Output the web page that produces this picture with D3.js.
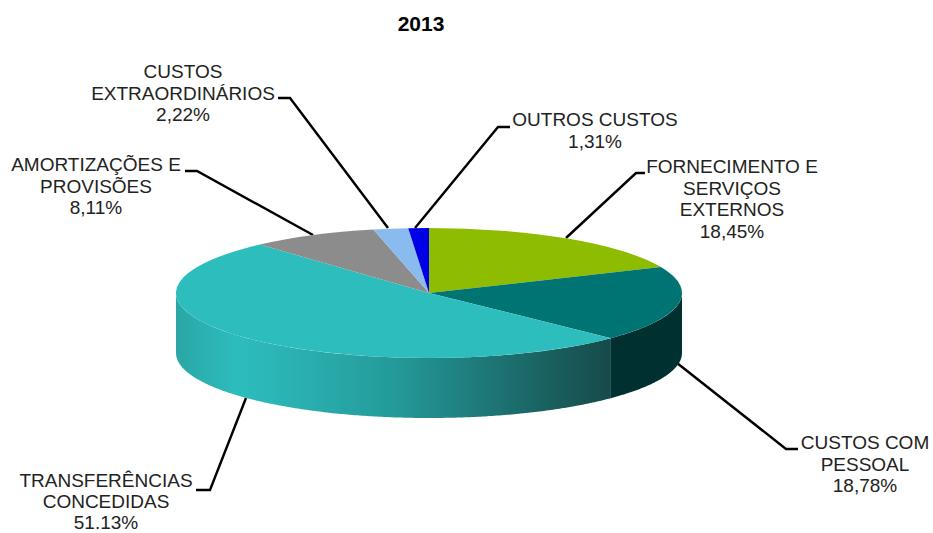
<!DOCTYPE html>
<html>
<head>
<meta charset="utf-8">
<script src="https://cdn.jsdelivr.net/npm/d3@7"></script>
<style>
  html, body { margin: 0; padding: 0; background: #fff; }
  svg { display: block; }
  text { font-family: "Liberation Sans", Arial, sans-serif; }
</style>
</head>
<body>
<script>
// data
var title = "2013";
var categories = ["FORNECIMENTO E SERVIÇOS EXTERNOS", "CUSTOS COM PESSOAL", "TRANSFERÊNCIAS CONCEDIDAS",
  "AMORTIZAÇÕES E PROVISÕES", "CUSTOS EXTRAORDINÁRIOS", "OUTROS CUSTOS"];
var values = [18.45, 18.78, 51.13, 8.11, 2.22, 1.31];
var valueLabels = ["18,45%", "18,78%", "51.13%", "8,11%", "2,22%", "1,31%"];
var labelLines = [
  ["FORNECIMENTO E", "SERVIÇOS", "EXTERNOS"],
  ["CUSTOS COM", "PESSOAL"],
  ["TRANSFERÊNCIAS", "CONCEDIDAS"],
  ["AMORTIZAÇÕES E", "PROVISÕES"],
  ["CUSTOS", "EXTRAORDINÁRIOS"],
  ["OUTROS CUSTOS"]
];

var topColors = ["#8dbc00", "#007373", "#2dbdbd", "#8c8c8c", "#8abbee", "#0000e6"];
var wallColors = ["#8dbc00", "#003030", "url(#wallCyan)", "#8c8c8c", "#8abbee", "#0000e6"];

// label placement: text centre, first baseline, line gap, leader line points
var labelLayout = [
  { x: 732, y: 173, gap: 21.7, line: [[566, 238], [636, 173], [645, 173]] },
  { x: 865, y: 449, gap: 21.5, line: [[677, 363], [786, 449], [798, 449]] },
  { x: 106, y: 487, gap: 21, line: [[246, 398], [210, 490], [196, 490]] },
  { x: 96, y: 171, gap: 21.5, line: [[313, 235], [197, 171], [185, 171]] },
  { x: 183, y: 78, gap: 21.5, line: [[388, 228], [290, 98], [278, 98]] },
  { x: 595, y: 126, gap: 21.5, line: [[415, 228], [498, 127], [510, 127]] }
];

var width = 933, height = 533;
var cx = 429, cy = 293, rx = 253, ry = 65, depth = 60;

var svg = d3.select("body").append("svg")
  .attr("width", width)
  .attr("height", height);

var grad = svg.append("defs").append("linearGradient")
  .attr("id", "wallCyan")
  .attr("gradientUnits", "userSpaceOnUse")
  .attr("x1", cx - rx).attr("x2", cx + 182)
  .attr("y1", 0).attr("y2", 0);
[[0, "#2aa6a6"], [0.14, "#2dbcbc"], [0.22, "#2cb6b6"], [0.5, "#249a9a"], [0.78, "#1c6c6c"], [1, "#174a4a"]]
  .forEach(function(s) {
    grad.append("stop").attr("offset", s[0]).attr("stop-color", s[1]);
  });

svg.append("text")
  .attr("x", 421)
  .attr("y", 31)
  .attr("text-anchor", "middle")
  .attr("font-size", 21)
  .attr("font-weight", "bold")
  .attr("fill", "#000")
  .text(title);

var pie = d3.pie().sort(null).value(function(d) { return d; });
var slices = pie(values);

// leader lines go under the pie
var leader = d3.line();
svg.append("g").selectAll("path")
  .data(labelLayout)
  .enter().append("path")
  .attr("d", function(d) { return leader(d.line); })
  .attr("fill", "none")
  .attr("stroke", "#000")
  .attr("stroke-width", 2.4);

// side wall, only the part of each slice that faces us
var wall = d3.area()
  .x(function(a) { return cx + rx * Math.sin(a); })
  .y0(function(a) { return cy - ry * Math.cos(a); })
  .y1(function(a) { return cy - ry * Math.cos(a) + depth; });

svg.append("g").selectAll("path")
  .data(slices)
  .enter().append("path")
  .attr("d", function(d) {
    var a0 = Math.max(d.startAngle, Math.PI / 2),
      a1 = Math.min(d.endAngle, Math.PI * 1.5);
    if (a1 <= a0) return null;
    return wall(d3.range(a0, a1, 0.01).concat([a1]));
  })
  .attr("fill", function(d, i) { return wallColors[i]; });

// top face is a plain d3 arc squashed into an ellipse
var arc = d3.arc().innerRadius(0).outerRadius(rx);
svg.append("g")
  .attr("transform", "translate(" + cx + "," + cy + ") scale(1," + (ry / rx) + ")")
  .selectAll("path")
  .data(slices)
  .enter().append("path")
  .attr("d", arc)
  .attr("fill", function(d, i) { return topColors[i]; });

// labels
var labels = svg.append("g").selectAll("text")
  .data(labelLayout)
  .enter().append("text")
  .attr("x", function(d) { return d.x; })
  .attr("y", function(d) { return d.y; })
  .attr("text-anchor", "middle")
  .attr("font-size", 19)
  .attr("fill", "#222");

labels.each(function(d, i) {
  var t = d3.select(this);
  labelLines[i].concat([valueLabels[i]]).forEach(function(s, k) {
    t.append("tspan")
      .attr("x", d.x)
      .attr("dy", k == 0 ? 0 : d.gap)
      .text(s);
  });
});
</script>
</body>
</html>
